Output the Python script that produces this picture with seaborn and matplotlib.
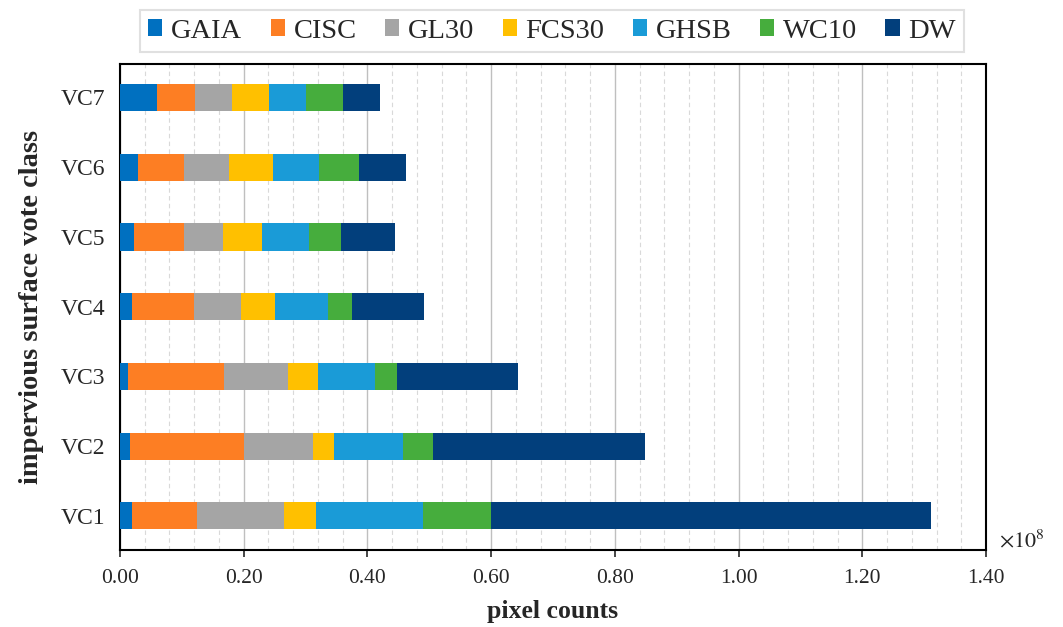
import matplotlib
matplotlib.use("Agg")
import matplotlib.pyplot as plt
from matplotlib.patches import Patch
from matplotlib.ticker import MultipleLocator, FormatStrFormatter
import seaborn as sns
import pandas as pd

# pixel counts (x 1e8) per vote class
classes = ["VC1", "VC2", "VC3", "VC4", "VC5", "VC6", "VC7"]
gaia = [0.019, 0.016, 0.013, 0.019, 0.023, 0.029, 0.060]
cisc = [0.106, 0.185, 0.155, 0.101, 0.081, 0.075, 0.061]
gl30 = [0.140, 0.111, 0.104, 0.075, 0.063, 0.072, 0.060]
fcs30 = [0.052, 0.034, 0.048, 0.056, 0.063, 0.072, 0.060]
ghsb = [0.173, 0.112, 0.093, 0.085, 0.075, 0.074, 0.060]
wc10 = [0.109, 0.048, 0.035, 0.039, 0.053, 0.065, 0.060]
dw = [0.712, 0.342, 0.195, 0.117, 0.087, 0.076, 0.060]

products = ["GAIA", "CISC", "GL30", "FCS30", "GHSB", "WC10", "DW"]
colors = ["#0070C0", "#FD7E23", "#A5A5A5", "#FFC000", "#1A9BD7", "#46AD3D", "#023F7C"]

df = pd.DataFrame({"GAIA": gaia, "CISC": cisc, "GL30": gl30, "FCS30": fcs30,
                   "GHSB": ghsb, "WC10": wc10, "DW": dw}, index=classes)
cum = df.cumsum(axis=1)
cum["cls"] = classes

sns.set_style("white")
plt.rcParams["font.family"] = ["Liberation Serif", "DejaVu Serif"]
plt.rcParams["mathtext.fontset"] = "stix"

fig = plt.figure(figsize=(10.63, 6.27), dpi=100)
ax = fig.add_axes([120 / 1063, 1 - 550 / 627, 866 / 1063, 486 / 627])

order = classes[::-1]
# draw cumulative totals from the longest down so each segment shows
for name, col in zip(products[::-1], colors[::-1]):
    sns.barplot(data=cum, x=name, y="cls", order=order, color=col,
                orient="h", width=0.39, linewidth=0, saturation=1, ax=ax, zorder=3)

ax.set_xlim(0, 1.40)
ax.set_ylim(6.49, -0.48)
ax.xaxis.set_major_locator(MultipleLocator(0.2))
ax.xaxis.set_minor_locator(MultipleLocator(0.04))
ax.xaxis.set_major_formatter(FormatStrFormatter("%.2f"))
ax.grid(axis="x", which="major", color="#BFBFBF", linewidth=1.0, zorder=0)
ax.grid(axis="x", which="minor", color="#D9D9D9", linewidth=0.8, linestyle=(0, (4, 3)), zorder=0)
ax.set_axisbelow(True)

for s in ax.spines.values():
    s.set_color("black")
    s.set_linewidth(1.5)

ax.tick_params(axis="x", which="major", bottom=True, length=5, width=1.2, labelsize=15.5, pad=9)
ax.tick_params(axis="x", which="minor", bottom=False)
ax.tick_params(axis="y", left=False, labelsize=17, pad=7)

ax.set_xlabel("pixel counts", fontsize=18.5, fontweight="bold", labelpad=8)
ax.set_ylabel("impervious surface vote class", fontsize=20.5, fontweight="bold", labelpad=12)

ax.text(1.015, -0.004, r"$\times10^{8}$", transform=ax.transAxes, fontsize=16,
        ha="left", va="bottom")

handles = [Patch(facecolor=c, edgecolor="none", label=p) for p, c in zip(products, colors)]
leg = fig.legend(handles=handles, loc="upper center", bbox_to_anchor=(552 / 1063, 1 - 10 / 627),
                 ncol=7, frameon=True, fancybox=False, fontsize=20.5, borderaxespad=0,
                 handlelength=0.5, handleheight=0.5, handletextpad=0.3,
                 columnspacing=1.0, borderpad=0.3)
leg.get_frame().set_edgecolor("#D9D9D9")
leg.get_frame().set_linewidth(1.5)

fig.savefig("out.png", dpi=100)
